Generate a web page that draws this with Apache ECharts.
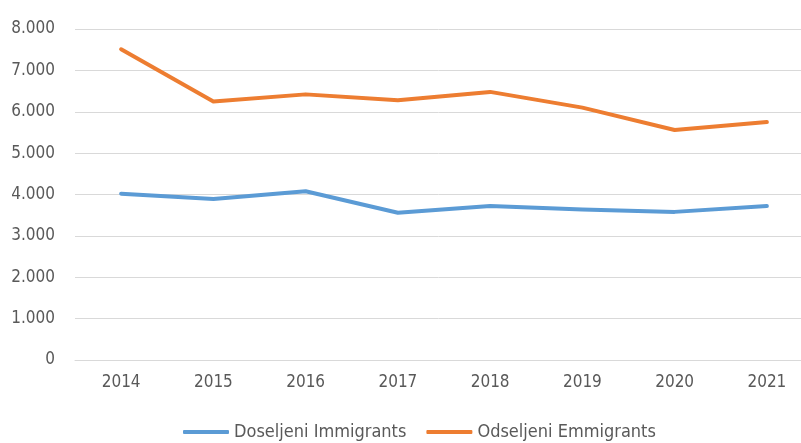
<!DOCTYPE html>
<html><head><meta charset="utf-8">
<script src="https://cdn.jsdelivr.net/npm/echarts@6/dist/echarts.min.js"></script>
<style>html,body{margin:0;padding:0;background:#fff}#c{width:801px;height:443px}</style>
</head><body><div id="c"></div>
<script>
const categories = ['2014','2015','2016','2017','2018','2019','2020','2021'];
const immigrants = [4020, 3890, 4080, 3560, 3720, 3640, 3580, 3720];
const emigrants = [7510, 6250, 6420, 6280, 6480, 6100, 5560, 5750];
const seriesNames = ['Doseljeni Immigrants', 'Odseljeni Emmigrants'];
const FONT = '"DejaVu Sans Condensed", "Liberation Sans", Arial, sans-serif';
const chart = echarts.init(document.getElementById('c'));
chart.setOption({
  animation: false,
  grid: {left: 75, right: -12, top: 29, bottom: 83, outerBoundsMode: 'none', containLabel: false},
  legend: {
    bottom: -3, left: 178, itemWidth: 46, itemHeight: 4, itemGap: 20,
    textStyle: {color: '#595959', fontSize: 18, fontFamily: FONT},
    icon: 'roundRect',
    data: seriesNames
  },
  xAxis: {
    type: 'category', data: categories,
    axisLine: {show: true, lineStyle: {color: '#d9d9d9'}},
    axisTick: {show: false},
    axisLabel: {color: '#595959', fontSize: 17, fontFamily: FONT, margin: 14}
  },
  yAxis: {
    type: 'value', min: 0, max: 8000, interval: 1000,
    axisLine: {show: false}, axisTick: {show: false},
    splitLine: {lineStyle: {color: '#d9d9d9'}},
    axisLabel: {color: '#595959', fontSize: 17, fontFamily: FONT, margin: 20,
      formatter: v => v === 0 ? '0' : (v/1000) + '.000'}
  },
  series: [
    {name: seriesNames[0], type: 'line', data: immigrants, symbol: 'none',
     lineStyle: {width: 4, color: '#5B9BD5', cap: 'round', join: 'round'}, itemStyle: {color: '#5B9BD5'}},
    {name: seriesNames[1], type: 'line', data: emigrants, symbol: 'none',
     lineStyle: {width: 4, color: '#ED7D31', cap: 'round', join: 'round'}, itemStyle: {color: '#ED7D31'}}
  ]
});
</script></body></html>
